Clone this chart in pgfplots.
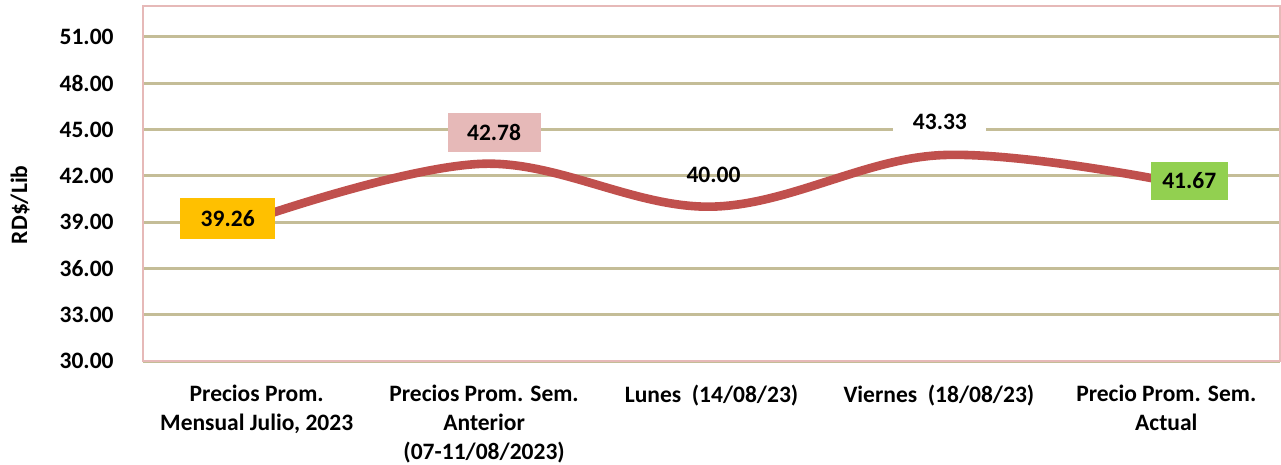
\documentclass[border=0pt]{standalone}
\usepackage{fontspec}
\setmainfont{Carlito}
\usepackage{pgfplots}
\pgfplotsset{compat=1.18}

\definecolor{linered}{HTML}{C0504D}
\definecolor{gridkhaki}{HTML}{C4BD97}
\definecolor{framepink}{HTML}{E6B9B8}
\definecolor{boxgold}{HTML}{FFC000}
\definecolor{boxpink}{HTML}{E6B9B8}
\definecolor{boxgreen}{HTML}{92D050}

\newcommand{\lblfont}{\bfseries\fontsize{11.8}{14.5}\selectfont}

\pgfplotsset{
  lbl/.style={
    draw=none, mark=none, forget plot,
    point meta=y,
    nodes near coords={\pgfmathprintnumber[fixed,zerofill,precision=2,assume math mode=true]{\pgfplotspointmeta}},
    every node near coord/.style={
      font=\lblfont, anchor=center, inner sep=0pt, text=black, #1
    },
  },
}

\begin{document}
\begin{tikzpicture}
\useasboundingbox (0,0) rectangle (640.5bp,232.5bp);
\begin{axis}[
  at={(71.5bp,52bp)}, anchor=south west,
  scale only axis,
  width=568.5bp, height=177.5bp,
  xmin=-0.5, xmax=4.5,
  ymin=30, ymax=53,
  ytick={30,33,...,51},
  xtick={0,...,4},
  xticklabels={
    {Precios Prom.\\Mensual Julio, 2023},
    {Precios Prom. Sem.\\Anterior\\(07-11/08/2023)},
    {Lunes\ \ (14/08/23)},
    {Viernes\ \ (18/08/23)},
    {Precio Prom. Sem.\\Actual}},
  xticklabel style={font=\lblfont, align=center, anchor=north, inner sep=0pt, yshift=-12bp},
  yticklabel style={font=\lblfont, anchor=east, inner sep=0pt, xshift=-14.5bp},
  /pgf/number format/assume math mode=true,
  yticklabel={\pgfmathprintnumber[fixed,zerofill,precision=2]{\tick}},
  major tick length=0pt,
  ymajorgrids,
  grid style={draw=gridkhaki, line width=1.5bp},
  axis line style={draw=framepink, line width=0.75bp},
  ylabel={RD\$/Lib},
  ylabel style={font=\lblfont, at={(axis description cs:-0.108,0.44)}, anchor=center, rotate=0},
  clip=false,
]
\addplot[linered, line width=4.3bp, smooth, tension=0.6, mark=none]
  coordinates {(0,39.26) (1,42.78) (2,40.00) (3,43.33) (4,41.67)};

\draw[black!80, line width=0.5bp] (axis cs:1,42.78) ++(0,0.6bp) -- ++(5.5bp,5.5bp);

\addplot[lbl={fill=boxgold, minimum width=47.5bp, minimum height=20.5bp, xshift=-14.5bp}]
  coordinates {(0,39.26)};
\addplot[lbl={fill=boxpink, minimum width=46.5bp, minimum height=19.5bp, xshift=5bp, yshift=15.5bp}]
  coordinates {(1,42.78)};
\addplot[lbl={yshift=16bp, xshift=1bp}]
  coordinates {(2,40.00)};
\addplot[lbl={fill=white, minimum width=46.5bp, minimum height=17bp, xshift=0.5bp, yshift=16.5bp}]
  coordinates {(3,43.33)};
\addplot[lbl={fill=boxgreen, minimum width=38.5bp, minimum height=19bp, xshift=11.5bp}]
  coordinates {(4,41.67)};
\end{axis}
\end{tikzpicture}
\end{document}
